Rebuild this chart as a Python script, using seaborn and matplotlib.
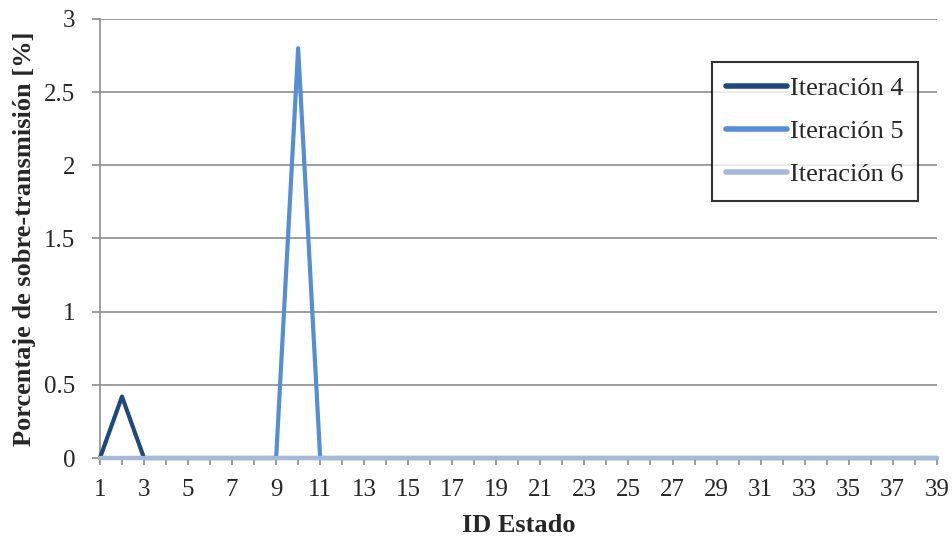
import matplotlib
matplotlib.use("Agg")
import matplotlib.pyplot as plt
import seaborn as sns
import pandas as pd
import numpy as np

estados = list(range(1, 40))
iter4 = [0, 0.42, 0] + [0] * 36
iter5 = [0] * 8 + [0, 2.8, 0] + [0] * 28
iter6 = [0] * 39
series_names = ["Iteración 4", "Iteración 5", "Iteración 6"]
colors = ["#1F497D", "#558ED5", "#A6B9D9"]

df = pd.DataFrame({
    "ID Estado": estados * 3,
    "valor": iter4 + iter5 + iter6,
    "serie": [series_names[0]] * 39 + [series_names[1]] * 39 + [series_names[2]] * 39,
})

sns.set_style("white")
plt.rcParams['font.family'] = ['Liberation Serif', 'DejaVu Serif']
plt.rcParams['xtick.bottom'] = True
plt.rcParams['ytick.left'] = True

fig = plt.figure(figsize=(9.52, 5.41), dpi=100)
ax = fig.add_axes([0.105, 0.1534, 0.879, 0.8116])

sns.lineplot(data=df, x="ID Estado", y="valor", hue="serie",
             palette=dict(zip(series_names, colors)), linewidth=3,
             ax=ax, legend=True, zorder=3)
for ln in ax.get_lines():
    ln.set_clip_on(False)

ax.set_xlim(1, 39)
ax.set_ylim(0, 3)
ax.set_xticks(range(1, 40, 2))
ax.set_xticks(range(1, 40), minor=True)
ax.set_yticks(np.arange(0, 3.01, 0.5))
ax.set_yticklabels(["0", "0.5", "1", "1.5", "2", "2.5", "3"])
ax.yaxis.grid(True, color="#8C8C8C", linewidth=1.2, zorder=0)
ax.set_axisbelow(True)
for s in ["top", "right"]:
    ax.spines[s].set_visible(False)
for s in ["left", "bottom"]:
    ax.spines[s].set_color("#8C8C8C")
    ax.spines[s].set_linewidth(1.2)
ax.tick_params(axis="both", which="both", direction="out", color="#8C8C8C",
               labelsize=18, width=1.2)
ax.tick_params(axis="x", which="both", length=5.3, pad=9.5)
ax.tick_params(axis="y", length=5.8, pad=12)

ax.set_xlabel("ID Estado", fontsize=19, fontweight="bold", labelpad=10)
ax.set_ylabel("Porcentaje de sobre-transmisión [%]", fontsize=19, fontweight="bold", labelpad=6)

leg = ax.legend(title=None, loc="upper right", bbox_to_anchor=(0.977, 0.902),
                borderaxespad=0,
                fontsize=19, frameon=True, fancybox=False, edgecolor="black",
                handlelength=2.3, handletextpad=0.1, labelspacing=0.75,
                borderpad=0.55)
leg.get_frame().set_linewidth(1.5)
for line in leg.get_lines():
    line.set_linewidth(4)

fig.savefig("out.png", dpi=100)
